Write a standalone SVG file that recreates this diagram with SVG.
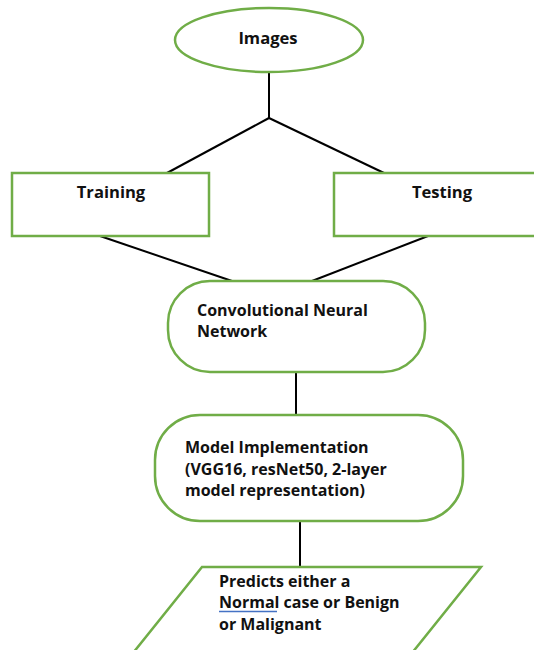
<svg xmlns="http://www.w3.org/2000/svg" width="534" height="650" viewBox="0 0 534 650">
<style>
.n{fill:#fff;stroke:#70AD47;stroke-width:2.5}
.c{stroke:#000;stroke-width:2;fill:none}
text{font-family:"Open Sans","Liberation Sans",sans-serif;font-weight:700;font-size:16px;fill:#111}
.t{font-size:16.6px}
</style>
<rect width="534" height="650" fill="#fff"/>
<g id="connectors">
<line class="c" x1="269" y1="73" x2="269" y2="118"/>
<line class="c" x1="269" y1="118" x2="167" y2="173"/>
<line class="c" x1="269" y1="118" x2="384" y2="173"/>
<line class="c" x1="100" y1="236" x2="232" y2="281"/>
<line class="c" x1="428" y1="236" x2="312" y2="281"/>
<line class="c" x1="296" y1="372" x2="296" y2="415"/>
<line class="c" x1="300" y1="521" x2="300" y2="567"/>
</g>
<g id="images">
<ellipse class="n" cx="269" cy="40" rx="94" ry="32"/>
<text class="t" x="268" y="44" text-anchor="middle">Images</text>
</g>
<g id="training">
<rect class="n" x="12" y="173" width="197" height="63"/>
<text class="t" x="111" y="198" text-anchor="middle">Training</text>
</g>
<g id="testing">
<rect class="n" x="334" y="173" width="212" height="63"/>
<text class="t" x="442" y="198" text-anchor="middle">Testing</text>
</g>
<g id="cnn">
<rect class="n" x="168" y="281" width="257" height="91" rx="42" ry="42"/>
<text x="197" y="316">Convolutional Neural</text>
<text x="197" y="337">Network</text>
</g>
<g id="model">
<rect class="n" x="155" y="415" width="308" height="106" rx="45" ry="45"/>
<text x="185" y="453">Model Implementation</text>
<text x="185" y="475">(VGG16, resNet50, 2-layer</text>
<text x="185" y="496">model representation)</text>
</g>
<g id="predicts">
<polygon class="n" points="202,567 481,567 412,653 133,653"/>
<text x="219" y="587">Predicts either a</text>
<text x="219" y="608">Normal case or Benign</text>
<text x="219" y="630">or Malignant</text>
<line x1="219" y1="611.5" x2="277" y2="611.5" stroke="#4472C4" stroke-width="1.3"/>
</g>
</svg>
